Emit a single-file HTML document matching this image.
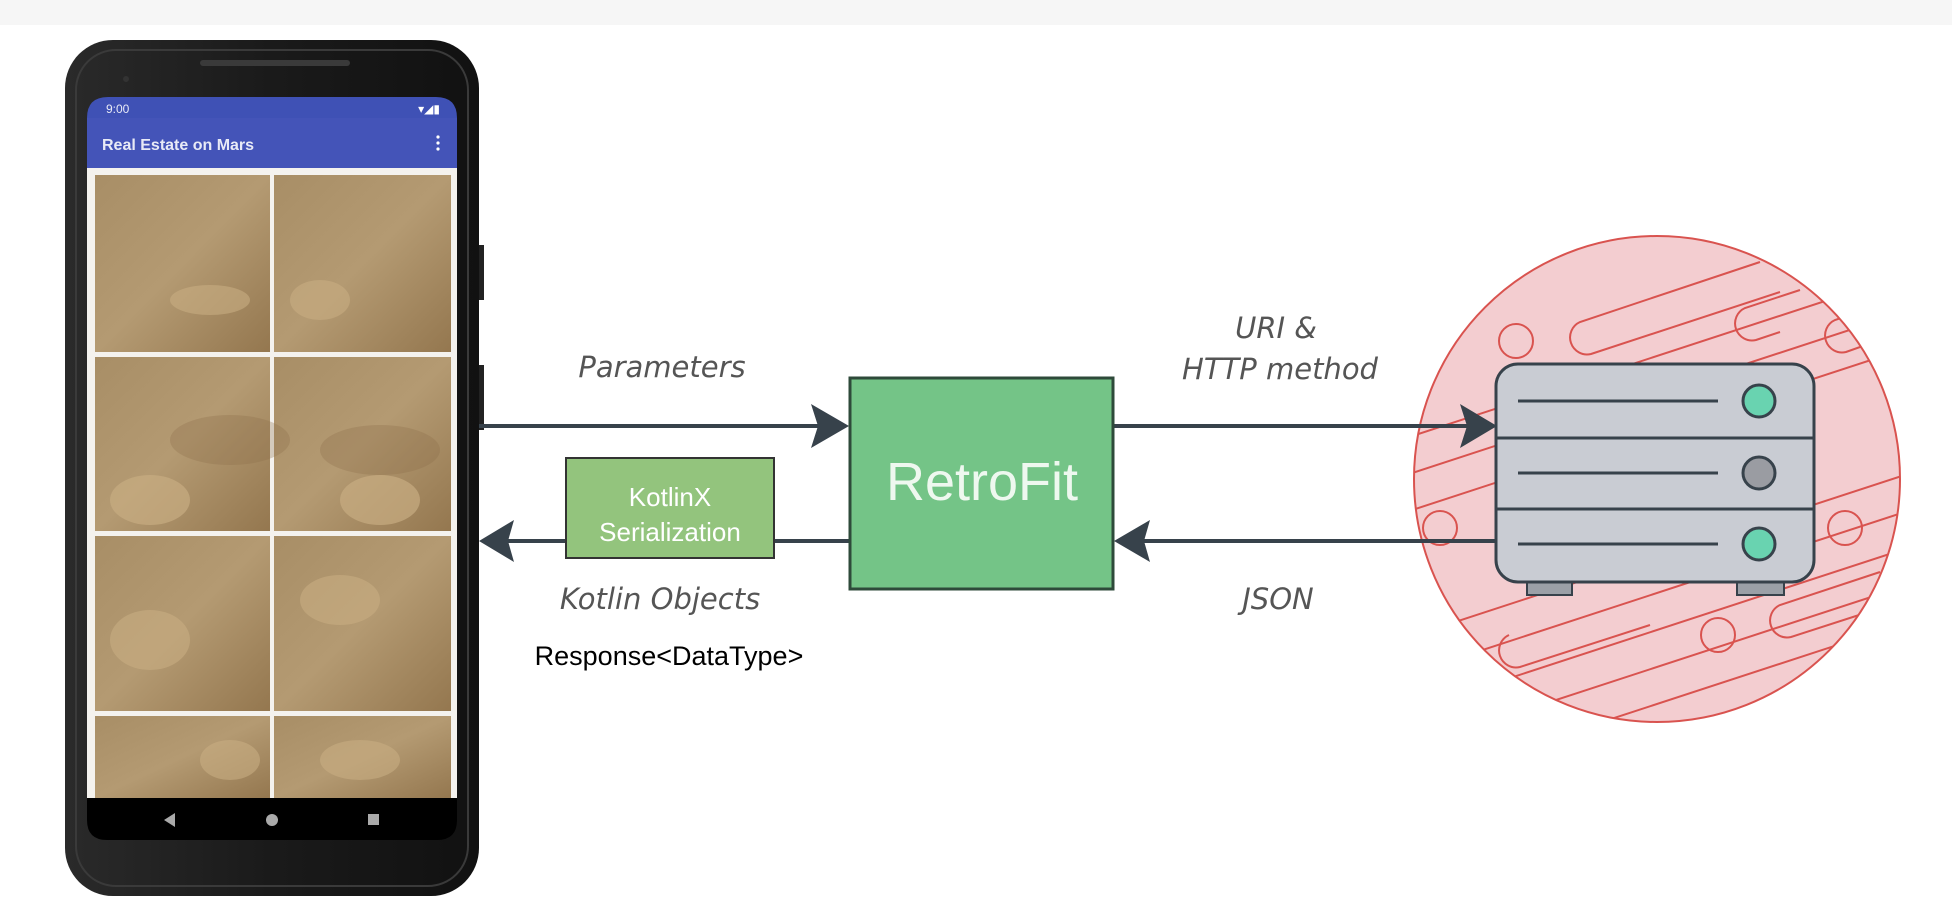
<!DOCTYPE html>
<html><head><meta charset="utf-8"><style>
html,body{margin:0;padding:0;background:#fff;}
svg{display:block;}
</style></head><body>
<svg width="1952" height="912" viewBox="0 0 1952 912" xmlns="http://www.w3.org/2000/svg">
<defs>
<linearGradient id="tile" x1="0" y1="0" x2="1" y2="1">
<stop offset="0" stop-color="#a88e66"/><stop offset="0.5" stop-color="#b49a72"/><stop offset="1" stop-color="#94774f"/>
</linearGradient>
<clipPath id="cc"><circle cx="1657" cy="479" r="243"/></clipPath>
<linearGradient id="phone" x1="0" y1="0" x2="1" y2="0">
<stop offset="0" stop-color="#2a2a2a"/><stop offset="0.5" stop-color="#1a1a1a"/><stop offset="1" stop-color="#111"/>
</linearGradient>
</defs>
<rect x="0" y="0" width="1952" height="25" fill="#f6f6f6"/>

<!-- phone -->
<rect x="65" y="40" width="414" height="856" rx="48" fill="url(#phone)"/>
<rect x="76" y="50" width="392" height="836" rx="40" fill="none" stroke="#3a3a3a" stroke-width="2"/>
<rect x="200" y="60" width="150" height="6" rx="3" fill="#3a3a3a"/>
<circle cx="126" cy="79" r="3" fill="#333"/>
<rect x="479" y="245" width="5" height="55" fill="#222"/>
<rect x="479" y="365" width="5" height="65" fill="#222"/>
<path d="M87 118 Q87 97 108 97 L436 97 Q457 97 457 118 Z" fill="#3f51b5"/>
<rect x="87" y="118" width="370" height="50" fill="#4454b8"/>
<text x="106" y="113" font-family="Liberation Sans, sans-serif" font-size="12" fill="#e8eaf6">9:00</text>
<text x="440" y="113" font-family="Liberation Sans, sans-serif" font-size="12" fill="#fff" text-anchor="end">▾◢▮</text>
<text x="102" y="150" font-family="Liberation Sans, sans-serif" font-size="16" font-weight="bold" fill="#e8eaf6">Real Estate on Mars</text>
<circle cx="438" cy="137" r="1.6" fill="#fff"/><circle cx="438" cy="143" r="1.6" fill="#fff"/><circle cx="438" cy="149" r="1.6" fill="#fff"/>
<rect x="87" y="168" width="370" height="630" fill="#f4f2ee"/>
<g>
<rect x="95" y="175" width="175" height="177" fill="url(#tile)"/>
<rect x="274" y="175" width="177" height="177" fill="url(#tile)"/>
<rect x="95" y="357" width="175" height="174" fill="url(#tile)"/>
<rect x="274" y="357" width="177" height="174" fill="url(#tile)"/>
<rect x="95" y="536" width="175" height="175" fill="url(#tile)"/>
<rect x="274" y="536" width="177" height="175" fill="url(#tile)"/>
<rect x="95" y="716" width="175" height="82" fill="url(#tile)"/>
<rect x="274" y="716" width="177" height="82" fill="url(#tile)"/>
<ellipse cx="150" cy="500" rx="40" ry="25" fill="#c8ad82" opacity="0.7"/>
<ellipse cx="380" cy="500" rx="40" ry="25" fill="#c8ad82" opacity="0.7"/>
<ellipse cx="150" cy="640" rx="40" ry="30" fill="#c8ad82" opacity="0.6"/>
<ellipse cx="340" cy="600" rx="40" ry="25" fill="#c8ad82" opacity="0.6"/>
<ellipse cx="230" cy="440" rx="60" ry="25" fill="#8a6d48" opacity="0.3"/>
<ellipse cx="380" cy="450" rx="60" ry="25" fill="#8a6d48" opacity="0.3"/>
<ellipse cx="210" cy="300" rx="40" ry="15" fill="#c8ad82" opacity="0.6"/>
<ellipse cx="320" cy="300" rx="30" ry="20" fill="#c8ad82" opacity="0.6"/>
<ellipse cx="230" cy="760" rx="30" ry="20" fill="#c8ad82" opacity="0.6"/>
<ellipse cx="360" cy="760" rx="40" ry="20" fill="#c8ad82" opacity="0.6"/>
</g>
<path d="M87 798 L457 798 L457 820 Q457 840 437 840 L107 840 Q87 840 87 820 Z" fill="#000"/>
<path d="M164 820 L175 813 L175 827 Z" fill="#aaa"/>
<circle cx="272" cy="820" r="6" fill="#aaa"/>
<rect x="368" y="814" width="11" height="11" fill="#aaa"/>

<!-- server circle -->
<circle cx="1657" cy="479" r="243" fill="#f3cdd0" stroke="#d9534f" stroke-width="2"/>
<g clip-path="url(#cc)" stroke="#d9534f" stroke-width="2" fill="none">
<line x1="1400" y1="440" x2="1920" y2="270"/>
<line x1="1400" y1="477" x2="1920" y2="307"/>
<line x1="1400" y1="514" x2="1920" y2="344"/>
<line x1="1400" y1="640" x2="1920" y2="470"/>
<line x1="1400" y1="677" x2="1920" y2="507"/>
<line x1="1400" y1="714" x2="1920" y2="544"/>
<line x1="1400" y1="751" x2="1920" y2="581"/>
<line x1="1400" y1="788" x2="1920" y2="618"/>
<path d="M1760 262 L1580 322 A17 17 0 0 0 1591 354 L1780 292"/>
<path d="M1800 290 L1745 308 A17 17 0 0 0 1756 340 L1780 332"/>
<path d="M1870 308 L1835 320 A17 17 0 0 0 1846 352 L1880 340"/>
<path d="M1650 625 L1520 667 A17 17 0 0 1 1509 635"/>
<path d="M1880 572 L1780 605 A17 17 0 0 0 1791 637 L1890 605"/>
<circle cx="1516" cy="341" r="17"/>
<circle cx="1845" cy="528" r="17"/>
<circle cx="1718" cy="635" r="17"/>
<circle cx="1440" cy="528" r="17"/>
</g>

<!-- arrows -->
<g stroke="#37424b" stroke-width="4" fill="none">
<line x1="479" y1="426" x2="830" y2="426"/>
<line x1="498" y1="541" x2="850" y2="541"/>
<line x1="1112" y1="426" x2="1478" y2="426"/>
<line x1="1132" y1="541" x2="1497" y2="541"/>
</g>
<path d="M811 404 L849 426 L811 448 L818 426 Z" fill="#37424b"/>
<path d="M479 541 L514 520 L508 541 L514 562 Z" fill="#37424b"/>
<path d="M1460 404 L1497 426 L1460 448 L1467 426 Z" fill="#37424b"/>
<path d="M1114 541 L1150 520 L1144 541 L1150 562 Z" fill="#37424b"/>

<rect x="566" y="458" width="208" height="100" fill="#93c47d" stroke="#333" stroke-width="2"/>
<text x="670" y="506" text-anchor="middle" font-family="Liberation Sans, sans-serif" font-size="26" fill="#fff">KotlinX</text>
<text x="670" y="541" text-anchor="middle" font-family="Liberation Sans, sans-serif" font-size="26" fill="#fff">Serialization</text>

<rect x="850" y="378" width="263" height="211" fill="#74c487" stroke="#2e4a3a" stroke-width="3"/>
<text x="982" y="500" text-anchor="middle" font-family="Liberation Sans, sans-serif" font-size="54" fill="#eef8ef">RetroFit</text>

<g font-family="DejaVu Sans, sans-serif" font-style="italic" font-size="29" fill="#555" text-anchor="middle">
<text x="662" y="377">Parameters</text>
<text x="660" y="609">Kotlin Objects</text>
<text x="1276" y="338">URI &amp;</text>
<text x="1280" y="379">HTTP method</text>
<text x="1278" y="609">JSON</text>
</g>
<text x="669" y="665" text-anchor="middle" font-family="Liberation Sans, sans-serif" font-size="27" fill="#000">Response&lt;DataType&gt;</text>

<rect x="1527" y="579" width="45" height="16" fill="#9ba0a7" stroke="#37424b" stroke-width="2"/>
<rect x="1737" y="579" width="47" height="16" fill="#9ba0a7" stroke="#37424b" stroke-width="2"/>
<rect x="1496" y="364" width="318" height="218" rx="22" fill="#c9ccd3" stroke="#37424b" stroke-width="3"/>
<line x1="1496" y1="438" x2="1814" y2="438" stroke="#37424b" stroke-width="3"/>
<line x1="1496" y1="509" x2="1814" y2="509" stroke="#37424b" stroke-width="3"/>
<g stroke="#37424b" stroke-width="3">
<line x1="1518" y1="401" x2="1718" y2="401"/>
<line x1="1518" y1="473" x2="1718" y2="473"/>
<line x1="1518" y1="544" x2="1718" y2="544"/>
</g>
<circle cx="1759" cy="401" r="16" fill="#69d3b0" stroke="#37424b" stroke-width="3"/>
<circle cx="1759" cy="473" r="16" fill="#9a9ca2" stroke="#37424b" stroke-width="3"/>
<circle cx="1759" cy="544" r="16" fill="#69d3b0" stroke="#37424b" stroke-width="3"/>
</svg>
</body></html>
